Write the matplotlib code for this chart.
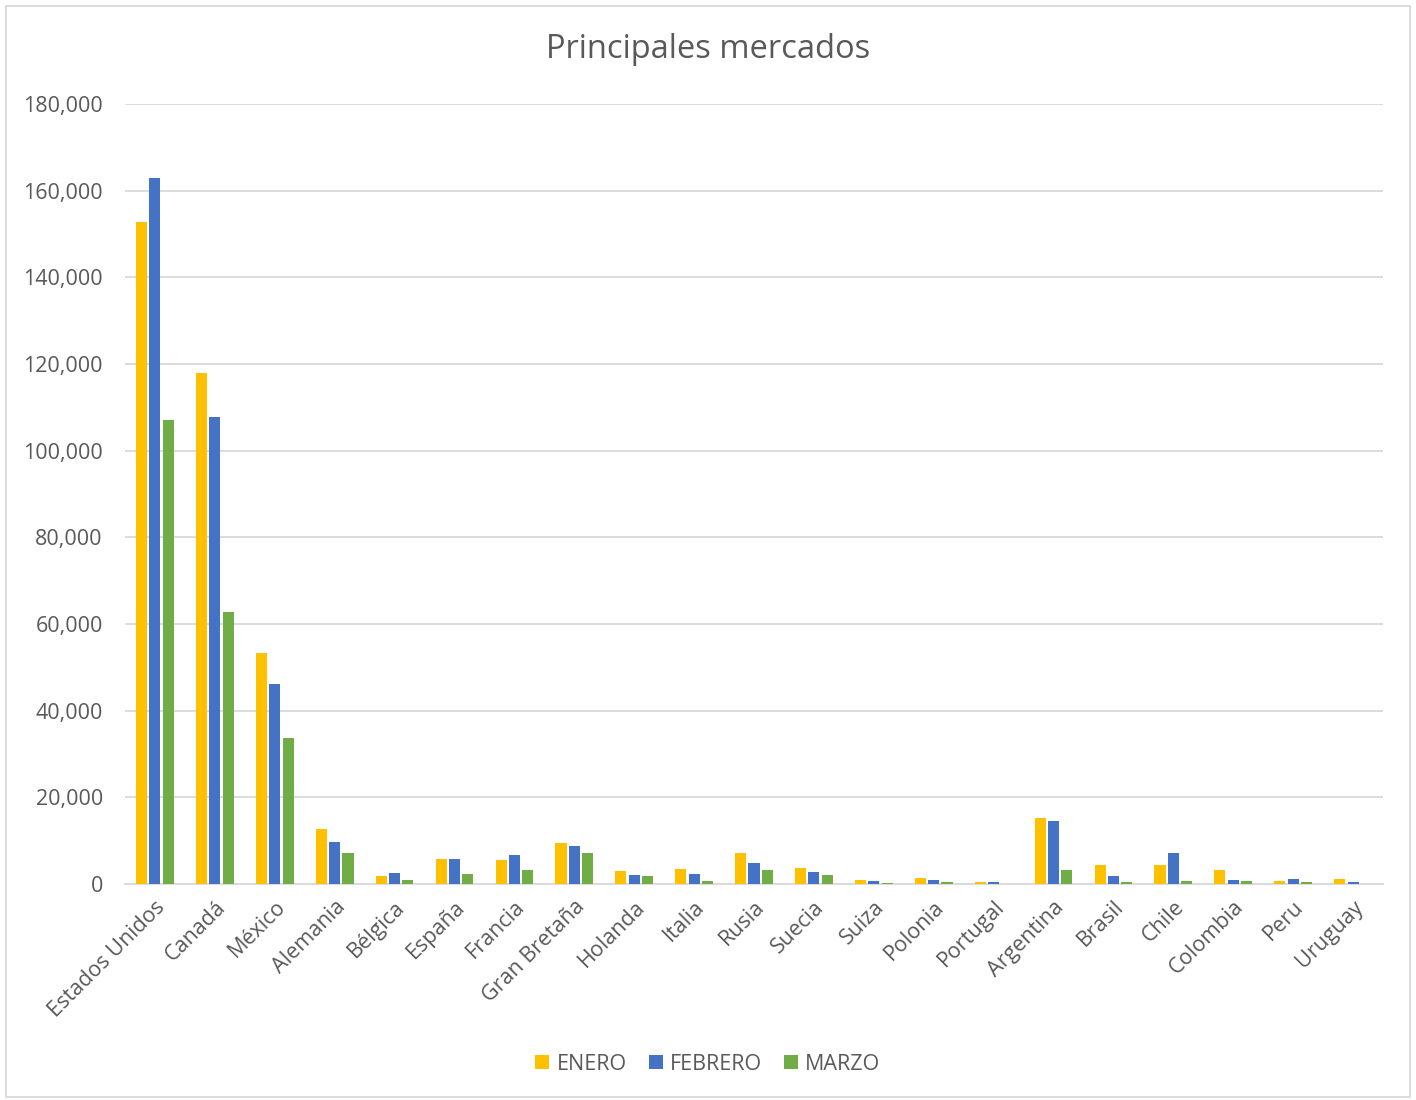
import numpy as np
import matplotlib.pyplot as plt
from matplotlib.ticker import FuncFormatter
from matplotlib.patches import Rectangle

paises = ['Estados Unidos', 'Canadá', 'México', 'Alemania', 'Bélgica', 'España',
          'Francia', 'Gran Bretaña', 'Holanda', 'Italia', 'Rusia', 'Suecia', 'Suiza',
          'Polonia', 'Portugal', 'Argentina', 'Brasil', 'Chile', 'Colombia', 'Peru',
          'Uruguay']
enero = [152800, 117900, 53300, 12600, 1850, 5700, 5500, 9500, 3100, 3500, 7200,
         3800, 850, 1300, 550, 15200, 4300, 4300, 3200, 800, 1100]
febrero = [162900, 107800, 46200, 9800, 2500, 5700, 6800, 8800, 2150, 2300, 4800,
           2800, 700, 900, 400, 14500, 1800, 7200, 900, 1150, 550]
marzo = [107100, 62800, 33700, 7200, 850, 2300, 3200, 7200, 1850, 700, 3200,
         2100, 250, 550, 100, 3200, 500, 800, 700, 400, 100]
series = [('ENERO', enero, '#FFC000'), ('FEBRERO', febrero, '#4472C4'),
          ('MARZO', marzo, '#70AD47')]

plt.rcParams['font.family'] = ['Open Sans', 'DejaVu Sans']

fig = plt.figure(figsize=(14.16, 11), dpi=100)
ax = fig.add_axes([125/1416, 1 - 884/1100, 1258/1416, 780/1100])

x = np.arange(len(paises))
w = 0.185
step = 0.222
for i, (nombre, vals, color) in enumerate(series):
    ax.bar(x + (i - 1) * step, vals, width=w, color=color, label=nombre, zorder=3)

ax.set_xlim(-0.5, len(paises) - 0.5)
ax.set_ylim(0, 180000)
ax.set_yticks(np.arange(0, 180001, 20000))
ax.yaxis.set_major_formatter(FuncFormatter(lambda v, p: f'{int(v):,}'))
ax.grid(axis='y', color='#d9d9d9', linewidth=1.3, zorder=0)
for s in ['top', 'right', 'left']:
    ax.spines[s].set_visible(False)
ax.spines['bottom'].set_color('#d9d9d9')
ax.spines['bottom'].set_linewidth(1.3)
ax.tick_params(axis='both', length=0, labelsize=15.5, colors='#595959')
ax.tick_params(axis='y', pad=16)
ax.tick_params(axis='x', pad=9)
ax.set_xticks(x)
ax.set_xticklabels(paises, rotation=45, ha='right', rotation_mode='anchor')

fig.text(0.5, 1 - 50/1100, 'Principales mercados', ha='center', va='center',
         fontsize=23.5, color='#595959')

leg = fig.legend(loc='center', bbox_to_anchor=(0.5, 1 - 1064/1100), ncol=3,
                 frameon=False, fontsize=15.5, handlelength=0.65, handleheight=0.65,
                 handletextpad=0.35, columnspacing=1.0)
for t in leg.get_texts():
    t.set_color('#595959')

fig.patches.append(Rectangle((6/1416, 3/1100), 1404/1416, 1091/1100,
                             transform=fig.transFigure, fill=False,
                             edgecolor='#d9d9d9', linewidth=1.3))

fig.savefig('out.png', dpi=100)
